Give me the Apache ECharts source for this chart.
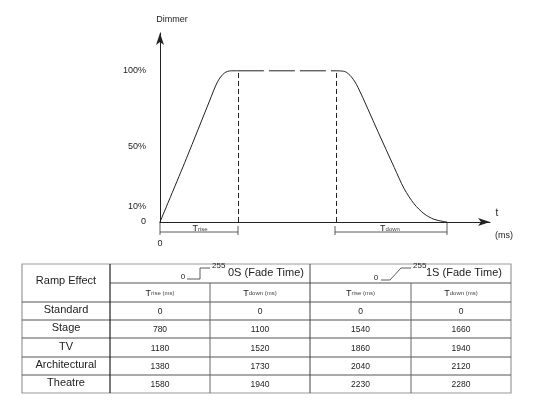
<!DOCTYPE html>
<html>
<head>
<meta charset="utf-8">
<script src="https://cdn.jsdelivr.net/npm/echarts@6/dist/echarts.min.js"></script>
<style>html,body{margin:0;padding:0;background:#fff}#main{width:535px;height:406px}</style>
</head>
<body>
<div id="main"></div>
<script>
// curve data (time units, dimmer %)
var riseCurve = [[0,0],[8,42],[15,80],[17.5,93],[19.5,98.5],[21.5,100],[23.6,100]];
var plateau = [[23.6,100],[53.3,100]];
var downCurve = [[53.3,100],[56,99.5],[58,96],[60,89],[66,60],[71,36],[74,22],[77,12],[80,5.5],[83,1.8],[86,0.3],[87,0]];
var yTicks = [0, 10, 50, 100];
var yTickLabels = ['0', '10%', '50%', '100%'];

// table data
var rampNames = ['Standard', 'Stage', 'TV', 'Architectural', 'Theatre'];
var tRise0 = [0, 780, 1180, 1380, 1580];
var tDown0 = [0, 1100, 1520, 1730, 1940];
var tRise1 = [0, 1540, 1860, 2040, 2120 + 110];
var tDown1 = [0, 1660, 1940, 2120, 2280];
tRise1[4] = 2230;

var myChart = echarts.init(document.getElementById('main'));
var FONT = 'Liberation Sans';

// table geometry
var colX = [22, 110, 210, 310, 411, 511];
var rowY = [264, 283, 302, 320, 338, 357, 375, 393];
var g = [];
function line(x1, y1, x2, y2, c, w) {
    g.push({type: 'line', shape: {x1: x1, y1: y1, x2: x2, y2: y2}, style: {stroke: c || '#333', lineWidth: w || 1}});
}
function txt(x, y, s, size, align, rich) {
    g.push({type: 'text', x: x, y: y, style: {text: s, fontSize: size || 10, fill: '#222', align: align || 'center', verticalAlign: 'middle', fontFamily: FONT, rich: rich}});
}
// outer border
g.push({type: 'rect', shape: {x: colX[0], y: rowY[0], width: colX[5] - colX[0], height: rowY[7] - rowY[0]}, style: {fill: 'none', stroke: '#999', lineWidth: 1.2}});
// horizontal lines
line(colX[1], rowY[1], colX[5], rowY[1], '#555');
for (var r = 2; r < 7; r++) line(colX[0], rowY[r], colX[5], rowY[r], '#555');
// vertical lines
line(colX[1], rowY[0], colX[1], rowY[7], '#222', 1.2);
line(colX[3], rowY[0], colX[3], rowY[7], '#444');
line(colX[2], rowY[1], colX[2], rowY[7], '#666');
line(colX[4], rowY[1], colX[4], rowY[7], '#666');

txt((colX[0] + colX[1]) / 2, (rowY[0] + rowY[2]) / 2 - 2, 'Ramp Effect', 11);
// header step glyphs
txt(183, 277, '0', 8);
g.push({type: 'polyline', shape: {points: [[187, 279], [200, 279], [200, 268], [210, 268]]}, style: {stroke: '#333', fill: 'none', lineWidth: 0.8}});
txt(212, 266, '255', 8, 'left');
txt(266, 273, '0S (Fade Time)', 11);
txt(376, 278, '0', 8);
g.push({type: 'polyline', shape: {points: [[381, 280], [390, 280], [401, 268], [411, 268]]}, style: {stroke: '#333', fill: 'none', lineWidth: 0.8}});
txt(413, 266, '255', 8, 'left');
txt(464, 273, '1S (Fade Time)', 11);
var sub = {s: {fontSize: 6, fontFamily: FONT, fill: '#444'}};
var heads = ['T{s|rise (ms)}', 'T{s|down (ms)}', 'T{s|rise (ms)}', 'T{s|down (ms)}'];
for (var c = 0; c < 4; c++) txt((colX[c + 1] + colX[c + 2]) / 2, (rowY[1] + rowY[2]) / 2 + 1, heads[c], 9, 'center', sub);
var cols = [tRise0, tDown0, tRise1, tDown1];
for (var i = 0; i < rampNames.length; i++) {
    var yc = (rowY[i + 2] + rowY[i + 3]) / 2;
    txt((colX[0] + colX[1]) / 2, yc - 1, rampNames[i], 11);
    for (var c = 0; c < 4; c++) txt((colX[c + 1] + colX[c + 2]) / 2, yc + 1, String(cols[c][i]), 8.5);
}

// diagram annotations
txt(172, 20, 'Dimmer', 9);
txt(497, 213, 't', 10);
txt(504, 236, '(ms)', 9);
txt(160, 244, '0', 9);
// brackets under the axis
line(160, 222, 160, 235, '#333', 0.8);
line(160, 232, 238, 232, '#333', 0.8);
line(238, 226, 238, 235, '#333', 0.8);
line(335, 226, 335, 235, '#333', 0.8);
line(335, 232, 447, 232, '#333', 0.8);
line(447, 222, 447, 235, '#333', 0.8);
txt(200, 229, 'T{s|rise}', 9, 'center', sub);
txt(390, 229, 'T{s|down}', 9, 'center', sub);

var grid = {left: 160, right: 45, top: 33, bottom: 184};
var option = {
    animation: false,
    grid: grid,
    xAxis: {
        type: 'value', min: 0, max: 100,
        axisLine: {lineStyle: {color: '#222', width: 1}, symbol: ['none', 'arrow'], symbolSize: [6, 12]},
        axisTick: {show: false}, axisLabel: {show: false}, splitLine: {show: false}
    },
    yAxis: {
        type: 'value', min: 0, max: 125,
        axisLine: {show: true, lineStyle: {color: '#222', width: 1}, symbol: ['none', 'arrow'], symbolSize: [6, 12]},
        axisTick: {show: false}, splitLine: {show: false},
        axisLabel: {
            fontSize: 9, color: '#222', fontFamily: FONT, margin: 14,
            customValues: yTicks,
            formatter: function (v) { return yTickLabels[yTicks.indexOf(v)] || ''; }
        }
    },
    series: [
        {type: 'line', data: riseCurve, smooth: 0.3, showSymbol: false, lineStyle: {color: '#222', width: 1},
         markLine: {silent: true, symbol: 'none', label: {show: false},
            lineStyle: {color: '#222', type: [5, 3], width: 1},
            data: [[{coord: [23.6, 0]}, {coord: [23.6, 100]}], [{coord: [53.3, 0]}, {coord: [53.3, 100]}]]}},
        {type: 'line', data: plateau, showSymbol: false, lineStyle: {color: '#222', width: 1, type: [26, 5]}},
        {type: 'line', data: downCurve, smooth: 0.3, showSymbol: false, lineStyle: {color: '#222', width: 1}}
    ],
    graphic: g
};
myChart.setOption(option);
</script>
</body>
</html>
